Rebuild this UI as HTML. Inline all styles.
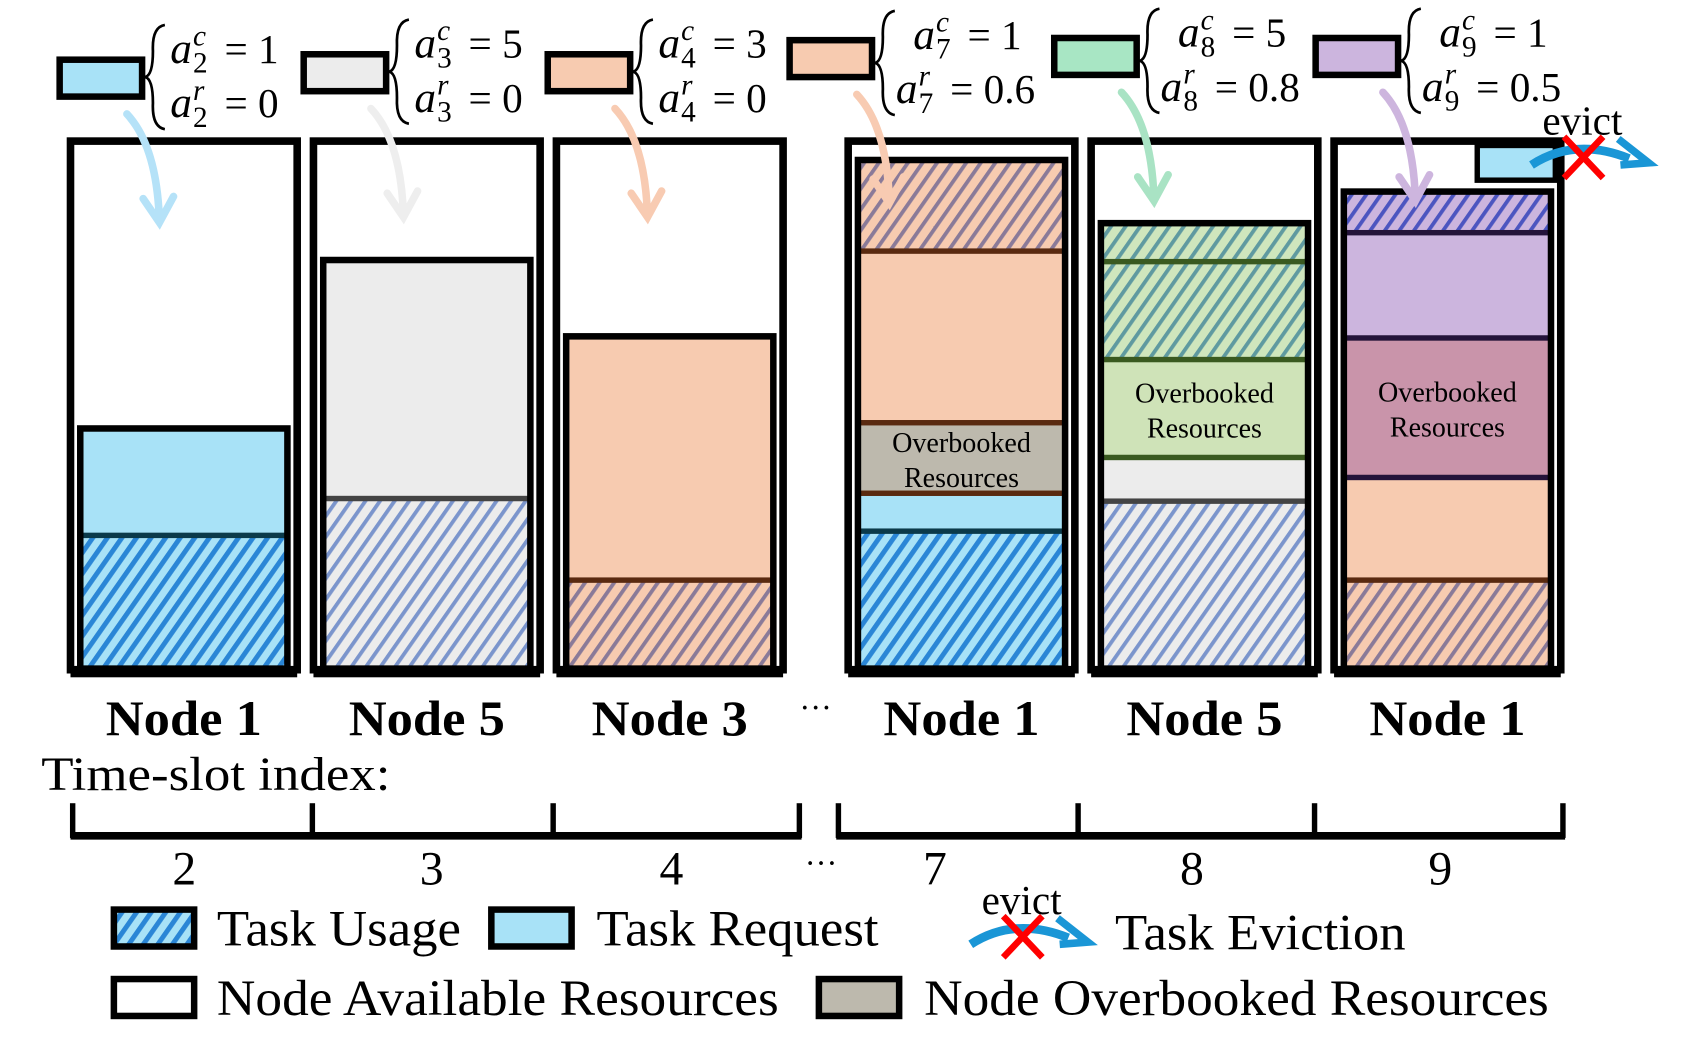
<!DOCTYPE html>
<html><head><meta charset="utf-8">
<style>
html,body{margin:0;padding:0;background:#fff;}
svg{display:block;}
text{font-family:"Liberation Serif",serif;fill:#000;}
</style></head>
<body>
<svg id="fig" width="1692" height="1042" viewBox="0 0 1560 960" preserveAspectRatio="none" xmlns="http://www.w3.org/2000/svg">
<defs>
 <pattern id="h-blue" patternUnits="userSpaceOnUse" width="11" height="11" patternTransform="rotate(35)"><rect width="11" height="11" fill="#a8e2f7"/><rect width="4.5" height="11" fill="#2a86d6"/></pattern>
 <pattern id="h-gray" patternUnits="userSpaceOnUse" width="11" height="11" patternTransform="rotate(35)"><rect width="11" height="11" fill="#ececec"/><rect width="3.5" height="11" fill="#7b95cc"/></pattern>
 <pattern id="h-peach" patternUnits="userSpaceOnUse" width="11" height="11" patternTransform="rotate(35)"><rect width="11" height="11" fill="#f7cbb0"/><rect width="3.5" height="11" fill="#8a7a98"/></pattern>
 <pattern id="h-green" patternUnits="userSpaceOnUse" width="11" height="11" patternTransform="rotate(35)"><rect width="11" height="11" fill="#cfe6bd"/><rect width="3.5" height="11" fill="#5f9aa0"/></pattern>
 <pattern id="h-purple" patternUnits="userSpaceOnUse" width="11" height="11" patternTransform="rotate(35)"><rect width="11" height="11" fill="#ccb5de"/><rect width="3.5" height="11" fill="#4c55c0"/></pattern>
</defs>
<g id="nodes"></g>
<g id="topgrp"></g>
<g id="bottom"></g>
</svg>
<script>
// ---- data ----
const nodeLabels = ["Node 1","Node 5","Node 3","Node 1","Node 5","Node 1"];
const slotLabels = ["2","3","4","7","8","9"];
const segStarts = [[0,25],[0,32],[0,16.5],[0,25.8,33,46.4,79],[0,31.5,39.8,58.4,77],[0,16.5,36,62.5,82.5]];
const segEnds   = [[25,45],[32,77],[16.5,62.5],[25.8,33,46.4,79,96],[31.5,39.8,58.4,77,84],[16.5,36,62.5,82.5,90]];
const segStyles = [["h-blue","blue"],["h-gray","gray"],["h-peach","peach"],
  ["h-blue","blue","over","peach","h-peach"],["h-gray","gray","overg","h-green","h-green"],
  ["h-peach","peach","overm","purple","h-purple"]];
const taskC = ["1","5","3","1","5","1"];
const taskR = ["0","0","0","0.6","0.8","0.5"];
const taskIdx = ["2","3","4","7","8","9"];
const taskColor = ["#a8e2f7","#ececec","#f7cbb0","#f7cbb0","#a8e6c4","#ccb5de"];
const arrowColor = ["#b5e2f8","#eeeeee","#f8cbb2","#f8cbb2","#a9e3c4","#cdb5de"];

// ---- layout ----
const NS="http://www.w3.org/2000/svg";
const nodeX=[65,289,513,782,1006,1230], nodeW=209, boxTop=130, base=615;
const yOf = v => base - v*4.85;
const fills={blue:"#a8e2f7",gray:"#ececec",peach:"#f7cbb0",purple:"#ccb5de",over:"#bdb9ad",overg:"#cfe3b8",overm:"#c994aa"};
const sepCol={blue:"#0b3a4a","h-blue":"#0b3a4a",gray:"#444","h-gray":"#444",peach:"#5a2a10","h-peach":"#5a2a10",over:"#5a2a10",overg:"#3a5a20","h-green":"#3a5a20",purple:"#24143a","h-purple":"#24143a",overm:"#24143a"};
function el(tag,attrs,parent){const e=document.createElementNS(NS,tag);for(const k in attrs)e.setAttribute(k,attrs[k]);parent.appendChild(e);return e;}
const gN=document.getElementById('nodes'), gT=document.getElementById('topgrp'), gB=document.getElementById('bottom');

nodeX.forEach((x,i)=>{
  const g=el('g',{},gN);
  
  
  const box=el('rect',{x:x,y:boxTop,width:nodeW,height:base-boxTop+2,fill:"#fff",stroke:"#000","stroke-width":7},g);
  
  
  el('rect',{x:x,y:base+1,width:nodeW,height:8,fill:"#000"},g);
  const ix=x+11, iw=nodeW-22;
  const starts=segStarts[i], ends=segEnds[i], st=segStyles[i];
  starts.forEach((s,j)=>{
    const f=st[j].startsWith('h-')?'url(#'+st[j]+')':fills[st[j]];
    const r=el('rect',{x:ix,y:yOf(ends[j]),width:iw,height:yOf(s)-yOf(ends[j]),fill:f},g);
    
    
    if(j>0){el('rect',{x:ix,y:yOf(s)-3,width:iw,height:5,fill:sepCol[st[j]]||"#333"},g);}
    if(st[j].startsWith('over')){
      const cy=(yOf(s)+yOf(ends[j]))/2;
      const col=st[j]==='overg'?"#3a4a10":"#111";
      const t1=el('text',{x:ix+iw/2,y:cy-6,"text-anchor":"middle","font-size":26,fill:col,textLength:128,lengthAdjust:"spacingAndGlyphs"},g);
      t1.textContent="Overbooked";
      
      
      const t2=el('text',{x:ix+iw/2,y:cy+26,"text-anchor":"middle","font-size":26,fill:col,textLength:106,lengthAdjust:"spacingAndGlyphs"},g);
      t2.textContent="Resources";
      
      
    }
  });
  const topV=ends[ends.length-1];
  const ob=el('rect',{x:ix-2,y:yOf(topV)-2,width:iw+4,height:base-yOf(topV)+3,fill:"none",stroke:"#000","stroke-width":6},g);
  
  
  const lbl=el('text',{x:x+nodeW/2,y:677,"text-anchor":"middle","font-size":46,"font-weight":"bold",textLength:144,lengthAdjust:"spacingAndGlyphs"},g);
  lbl.textContent=nodeLabels[i];
  
  
});

function eqLine(g,ax,base,sup,sub,val,name){
  const gg=el('g',{},g);
  
  
  const a=el('text',{x:ax,y:base,"font-size":40,"font-style":"italic"},gg);a.textContent="a";
  const s1=el('text',{x:ax+21,y:base-16,"font-size":27,"font-style":"italic"},gg);s1.textContent=sup;
  const s2=el('text',{x:ax+21,y:base+9,"font-size":27},gg);s2.textContent=sub;
  const v=el('text',{x:ax+50,y:base,"font-size":38},gg);v.textContent="= "+val;
}

const tbX=[55,280,505,728,972,1213], tbY=[55,50,50,37,35,35];
tbX.forEach((x,i)=>{
  const g=el('g',{},gT);
  
  
  const r=el('rect',{x:x,y:tbY[i],width:76,height:34,fill:taskColor[i],stroke:"#000","stroke-width":6},g);
  
  
  const bx=x+85;
  const L1 = i<3 ? tbY[i]+3 : tbY[i]+8;
  const L2 = L1+50;
  const by=(L1+L2)/2-12;
  el('path',{d:`M${bx+12},${by-48} Q${bx},${by-46} ${bx+1},${by-24} Q${bx+1},${by-2} ${bx-6},${by} Q${bx+1},${by+2} ${bx+1},${by+24} Q${bx},${by+46} ${bx+12},${by+48}`,fill:"none",stroke:"#000","stroke-width":2.5},g);
  eqLine(g, bx+(i<3?17:29), L1, "c", taskIdx[i], taskC[i], 'cpu-equation');
  eqLine(g, bx+(i<3?17:13), L2, "r", taskIdx[i], taskR[i], 'ram-equation');
  const ax=x+62, ay=tbY[i]+50, ex=ax+30, ey=ay+100;
  const a=el('path',{d:`M${ax},${ay} Q${ax+28},${ay+30} ${ex},${ey} M${ex-15},${ey-22} L${ex},${ey} L${ex+13},${ey-24}`,fill:"none",stroke:arrowColor[i],"stroke-width":7,"stroke-linecap":"round"},g);
  
  
});

function evictIcon(x,y0,parent,name){
  const g=el('g',{},parent);
  
  
  el('path',{d:`M${x},${y0+12} Q${x+40},${y0-14} ${x+90},${y0+6}`,fill:"none",stroke:"#1a96d6","stroke-width":8},g);
  el('path',{d:`M${x+80},${y0-12} L${x+108},${y0+10} L${x+82},${y0+12}`,fill:"none",stroke:"#1a96d6","stroke-width":7},g);
  el('path',{d:`M${x+30},${y0-14} L${x+66},${y0+24} M${x+66},${y0-14} L${x+30},${y0+24}`,stroke:"#f00","stroke-width":6},g);
  const t=el('text',{x:x+10,y:y0-16,"font-size":38},g);t.textContent="evict";
  return g;
}
const ev=el('rect',{x:1362,y:134,width:72,height:32,fill:"#a8e2f7",stroke:"#000","stroke-width":5},gT);


evictIcon(1412,140,gT,'eviction-arrow');

const d1=el('text',{x:752,y:662,"text-anchor":"middle","font-size":30},gB);d1.textContent="···";



const ts=el('text',{x:38,y:728,"font-size":44,textLength:322,lengthAdjust:"spacingAndGlyphs"},gB);ts.textContent="Time-slot index:";


[[67,288,510,737],[773,994,1212,1441]].forEach((ticks,k)=>{
  const g=el('g',{},gB);
  
  
  el('line',{x1:ticks[0]-2,y1:770,x2:ticks[3]+2,y2:770,stroke:"#000","stroke-width":7},g);
  ticks.forEach(t=>el('line',{x1:t,y1:740,x2:t,y2:772,stroke:"#000","stroke-width":5},g));
});
const slotX=[170,398,619,862,1099,1328];
slotLabels.forEach((s,i)=>{
  const t=el('text',{x:slotX[i],y:815,"text-anchor":"middle","font-size":44},gB);t.textContent=s;
  
  
});
const d2=el('text',{x:757,y:805,"text-anchor":"middle","font-size":30},gB);d2.textContent="···";



const legX=[105,453,105,755], legY=[838,838,902,902];
const legFill=["url(#h-blue)","#a8e2f7","#fff","#bdb9ad"];
const legText=["Task Usage","Task Request","Node Available Resources","Node Overbooked Resources"];
const legTX=[200,550,200,852];
const legW=[225,260,518,576];
legText.forEach((s,i)=>{
  const r=el('rect',{x:legX[i],y:legY[i],width:74,height:34,fill:legFill[i],stroke:"#000","stroke-width":6},gB);
  
  
  const t=el('text',{x:legTX[i],y:legY[i]+33,"font-size":47,textLength:legW[i],lengthAdjust:"spacingAndGlyphs"},gB);t.textContent=s;
  
  
});
evictIcon(895,858,gB,'legend-eviction-icon');
const te=el('text',{x:1028,y:875,"font-size":47,textLength:268,lengthAdjust:"spacingAndGlyphs"},gB);te.textContent="Task Eviction";


</script>
</body></html>
